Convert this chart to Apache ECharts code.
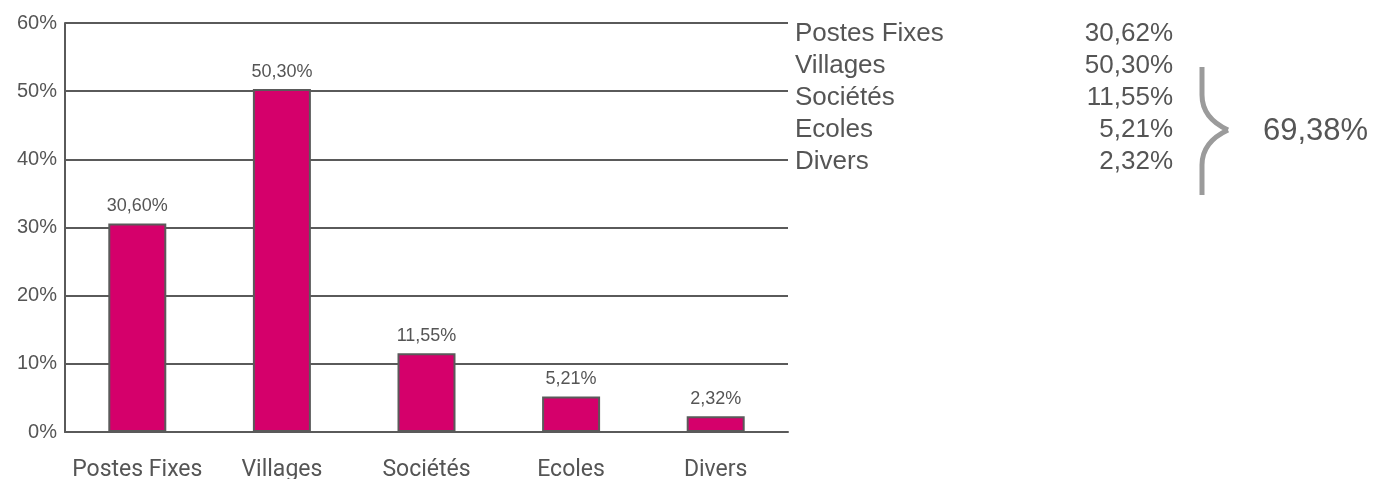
<!DOCTYPE html>
<html>
<head>
<meta charset="utf-8">
<script src="https://cdn.jsdelivr.net/npm/echarts@6/dist/echarts.min.js"></script>
<style>
  html, body { margin: 0; padding: 0; background: #fff; }
  #chart { width: 1373px; height: 479px; }
</style>
</head>
<body>
<div id="chart"></div>
<script>
const categories = ['Postes Fixes', 'Villages', 'Sociétés', 'Ecoles', 'Divers'];
const barValues = [30.60, 50.30, 11.55, 5.21, 2.32];
const tableValues = [30.62, 50.30, 11.55, 5.21, 2.32];
const groupTotal = 69.38;

const textColor = '#555555';
const lineColor = '#5a5a5a';
const sansFont = '"Liberation Sans", Arial, sans-serif';
const narrowFont = 'Roboto, sans-serif';

function pct(v) {
  return v.toFixed(2).replace('.', ',') + '%';
}

// side table: names + values, one row each
const tableTop = 34;
const rowStep = 32;
const sideGraphics = [];
categories.forEach((name, i) => {
  sideGraphics.push({
    type: 'text', x: 795, y: tableTop + i * rowStep,
    style: { text: name, fill: textColor, font: '26px ' + sansFont, verticalAlign: 'middle' }
  });
  sideGraphics.push({
    type: 'text', x: 1173, y: tableTop + i * rowStep,
    style: { text: pct(tableValues[i]), fill: textColor, font: '26px ' + sansFont, align: 'right', verticalAlign: 'middle' }
  });
});
// brace around Villages..Divers
const braceStyle = { fill: null, stroke: '#9b9b9b', lineWidth: 5 };
sideGraphics.push(
  { type: 'line', shape: { x1: 1202, y1: 67, x2: 1202, y2: 95 }, style: braceStyle },
  { type: 'bezierCurve', shape: { x1: 1202, y1: 95, cpx1: 1202, cpy1: 118, x2: 1228, y2: 130 }, style: braceStyle },
  { type: 'bezierCurve', shape: { x1: 1228, y1: 130, cpx1: 1202, cpy1: 142, x2: 1202, y2: 165 }, style: braceStyle },
  { type: 'line', shape: { x1: 1202, y1: 165, x2: 1202, y2: 195 }, style: braceStyle }
);
sideGraphics.push({
  type: 'text', x: 1263, y: 131,
  style: { text: pct(groupTotal), fill: textColor, font: '31px ' + sansFont, verticalAlign: 'middle' }
});

const chart = echarts.init(document.getElementById('chart'), null, { renderer: 'canvas', devicePixelRatio: 1 });
chart.setOption({
  animation: false,
  grid: { left: 65, right: 1373 - 788, top: 23, bottom: 47, outerBoundsMode: 'none', containLabel: false },
  xAxis: {
    type: 'category',
    data: categories,
    axisLine: { show: true, lineStyle: { color: lineColor, width: 2 } },
    axisTick: { show: false },
    axisLabel: { color: textColor, fontSize: 23, fontFamily: narrowFont, margin: 27, interval: 0 }
  },
  yAxis: {
    type: 'value',
    min: 0, max: 60, interval: 10,
    axisLine: { show: true, lineStyle: { color: lineColor, width: 2 } },
    axisTick: { show: false },
    axisLabel: { color: textColor, fontSize: 20, fontFamily: sansFont, margin: 8, formatter: '{value}%' },
    splitLine: { show: true, lineStyle: { color: lineColor, width: 2 } }
  },
  series: [{
    type: 'bar',
    data: barValues,
    barWidth: 58,
    itemStyle: { color: '#d5006b', borderColor: lineColor, borderWidth: 2 },
    label: {
      show: true, position: 'top', distance: 8,
      color: textColor, fontSize: 18, fontFamily: sansFont,
      formatter: p => pct(p.value)
    }
  }],
  graphic: sideGraphics
});
</script>
</body>
</html>
